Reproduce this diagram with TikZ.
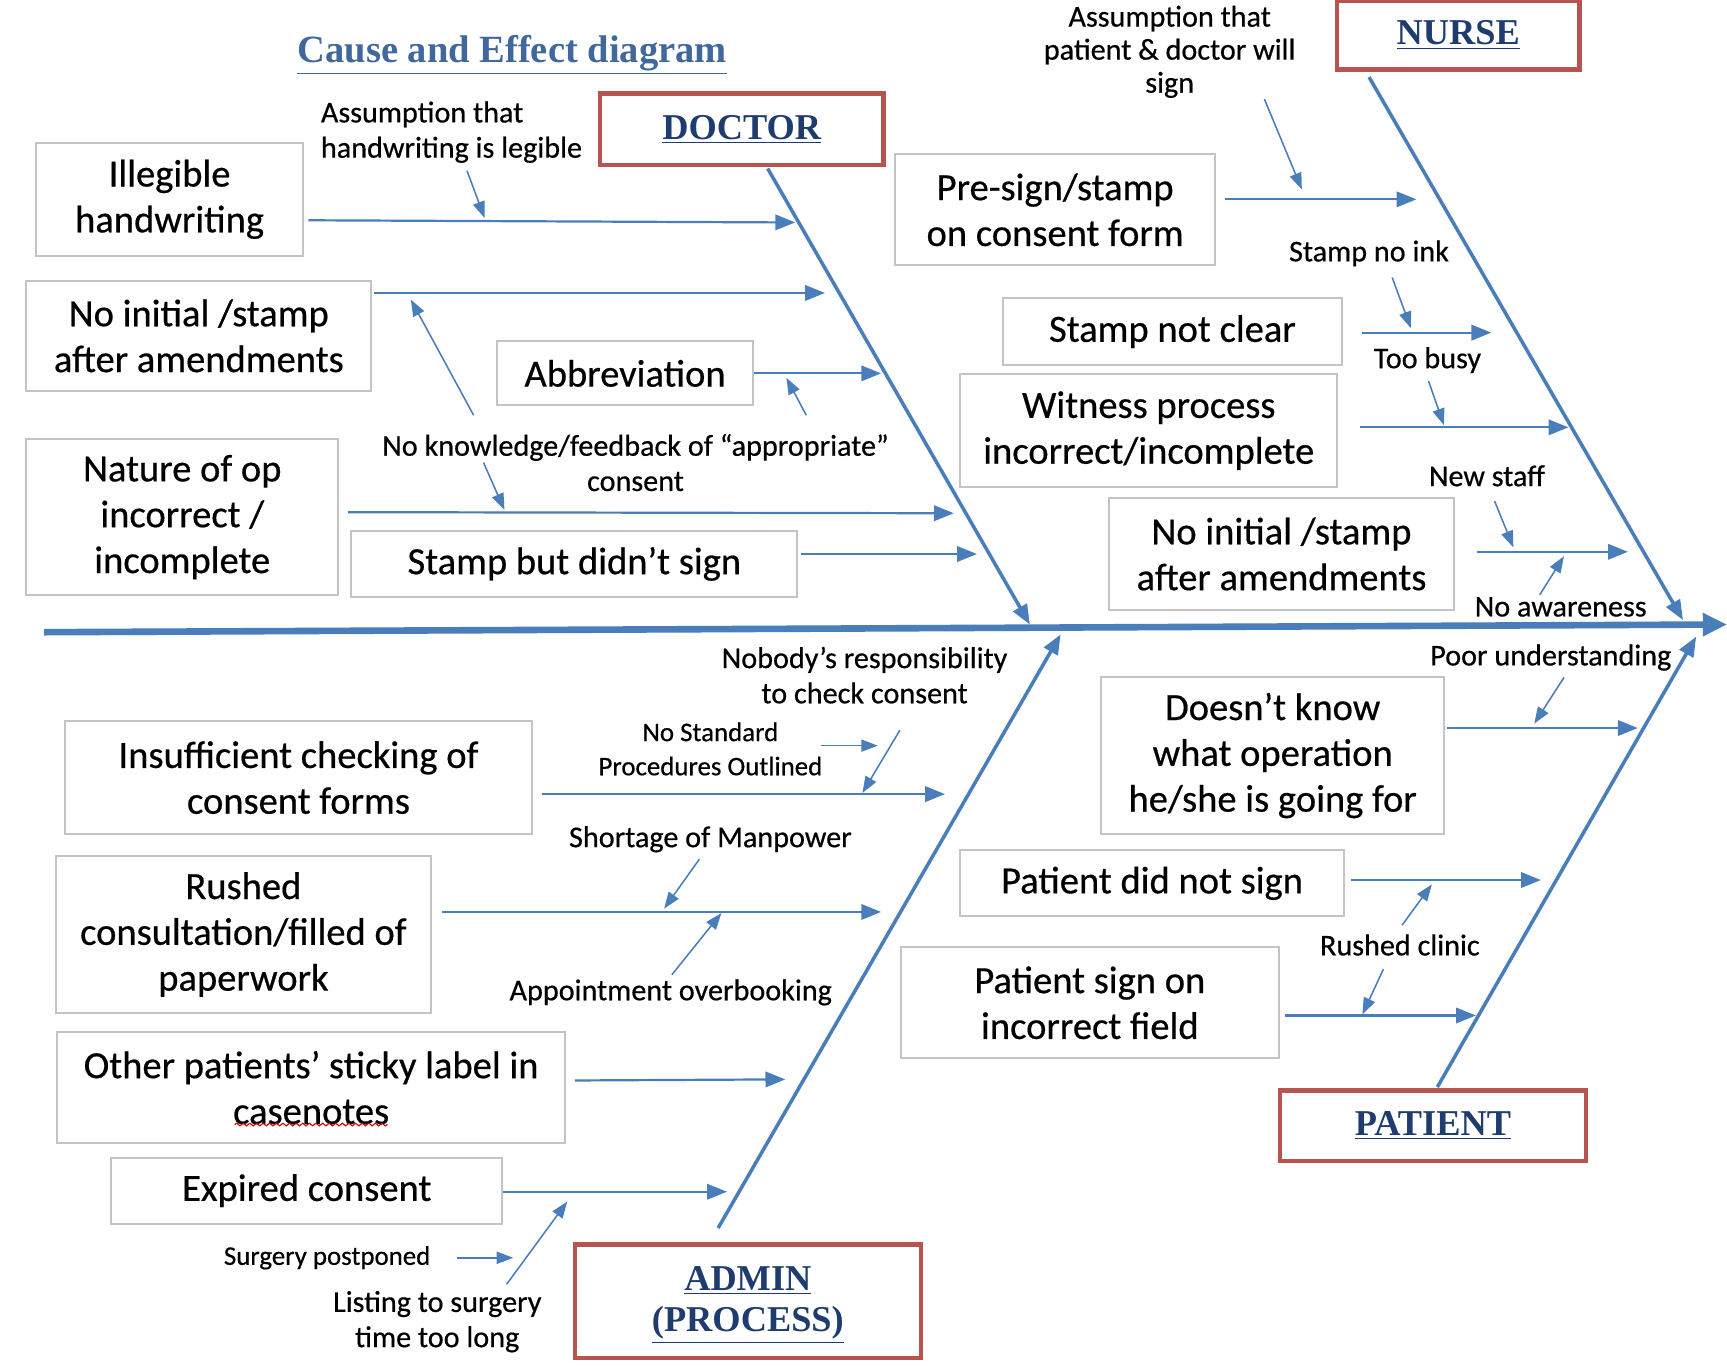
\documentclass[tikz,border=0pt]{standalone}
\usepackage{fontspec}
\setmainfont{Carlito}[FakeBold=0.5]
\newfontfamily\myserif{Liberation Serif}
\usetikzlibrary{arrows.meta,decorations.pathmorphing}
\definecolor{bone}{HTML}{4A7EBB}
\definecolor{boxgray}{HTML}{C4C4C4}
\definecolor{headred}{HTML}{B85450}
\definecolor{headblue}{HTML}{1F3C6E}
\definecolor{titleblue}{HTML}{41689C}
\newcommand{\mycausefont}{\fontsize{17.5pt}{20.8pt}\selectfont}
\newcommand{\mylblfont}{\fontsize{13.7pt}{16pt}\selectfont}
\newcommand{\mysmlfont}{\fontsize{12.2pt}{15.5pt}\selectfont}
\newcommand{\myheadfont}{\myserif\bfseries\fontsize{16.5pt}{19.5pt}\selectfont}
\tikzset{
  cause/.style={draw=boxgray, line width=0.9pt, align=center, font=\mycausefont, inner sep=0pt, text=black},
  head/.style={draw=headred, line width=2pt, align=center, font=\myheadfont, text=headblue, inner sep=0pt},
  headtext/.style={align=center, font=\myheadfont, text=headblue, inner sep=0pt},
  lbl/.style={font=\mylblfont, align=center, inner sep=0pt, text=black},
  sml/.style={font=\mysmlfont, align=center, inner sep=0pt, text=black},
  spineline/.style={draw=bone, line width=3pt, -{Triangle[length=11pt,width=10pt]}},
  boneline/.style={draw=bone, line width=1.6pt, -{Triangle[length=9pt,width=7pt]}},
  carrow/.style={draw=bone, line width=1pt, -{Triangle[length=9pt,width=7pt]}},
  sarrow/.style={draw=bone, line width=0.7pt, -{Triangle[length=7.5pt,width=5.5pt]}},
}
\begin{document}
\begin{tikzpicture}[x=0.5pt,y=-0.5pt]
\useasboundingbox (0,0) rectangle (1568,1240);
\fill[white] (0,0) rectangle (1568,1240);

% title
\node[font=\myserif\bfseries\fontsize{17.5pt}{20pt}\selectfont, text=titleblue, inner sep=0pt] (title) at (465,50) {\underline{Cause and Effect diagram}};

% heads
\node[head, minimum width=128.5pt, minimum height=32.5pt] (doctor) at (673.5,117.5) {\underline{DOCTOR}};
\node[head, minimum width=110pt, minimum height=31pt] (nurse) at (1324,32) {\underline{NURSE}};
\node[head, minimum width=157pt, minimum height=51.5pt] (admin) at (679,1181.5) {};
\node[headtext] (adminT) at (679,1185) {\underline{ADMIN}\\[-1pt]\underline{(PROCESS)}};
\node[head, minimum width=139pt, minimum height=32pt] (patient) at (1301,1022) {\underline{PATIENT}};

% spine and bones
\coordinate (sL) at (40,574);
\coordinate (sR) at (1568,567);
\draw[spineline] (sL) -- (sR);
\coordinate (dTop) at (697,153);
\coordinate (dEnd) at (935,567);
\coordinate (nTop) at (1243,70);
\coordinate (nEnd) at (1528,563);
\coordinate (aBot) at (652,1115);
\coordinate (aEnd) at (963,576);
\coordinate (pBot) at (1305,987);
\coordinate (pEnd) at (1540,578);
\draw[boneline] (dTop) -- (dEnd);
\draw[boneline] (nTop) -- (nEnd);
\draw[boneline] (aBot) -- (aEnd);
\draw[boneline] (pBot) -- (pEnd);

% ---------- DOCTOR causes
\node[cause, minimum width=121pt, minimum height=51pt] (ill) at (154,181) {Illegible\\handwriting};
\node[cause, minimum width=156.5pt, minimum height=50pt] (noiA) at (180.5,305) {No initial /stamp\\after amendments};
\node[cause, minimum width=116.5pt, minimum height=29pt] (abb) at (567.5,339) {Abbreviation};
\node[cause, minimum width=141.5pt, minimum height=70.5pt] (nat) at (165.5,469.5) {Nature of op\\incorrect /\\incomplete};
\node[cause, minimum width=202.5pt, minimum height=30pt] (stb) at (521.5,512) {Stamp but didn’t sign};

\coordinate (illE) at (722,202);
\coordinate (noiAE) at (749,266);
\coordinate (abbE) at (800,339);
\coordinate (natE) at (866,466);
\coordinate (stbE) at (887,503);
\draw[carrow] ([xshift=2pt]ill.east |- 0,200) -- (illE);
\draw[carrow] ([xshift=1pt]noiA.east |- noiAE) -- (noiAE);
\draw[carrow] (abb.east |- abbE) -- (abbE);
\draw[carrow] ([xshift=4pt]nat.east |- 0,465) -- (natE);
\draw[carrow] ([xshift=1pt]stb.east |- stbE) -- (stbE);

\node[lbl, align=left, anchor=west] (lAs1) at (291,120) {Assumption that\\handwriting is legible};
\node[lbl] (lNK) at (577,420) {No knowledge/feedback of “appropriate”\\consent};
\coordinate (a1s) at (424,155); \coordinate (a1e) at (440,198);
\coordinate (a2s) at (430,377); \coordinate (a2e) at (373,272);
\coordinate (a3s) at (732,377); \coordinate (a3e) at (714,343);
\coordinate (a4s) at (439,420); \coordinate (a4e) at (458,463);
\draw[sarrow] (a1s) -- (a1e);
\draw[sarrow] (a2s) -- (a2e);
\draw[sarrow] (a3s) -- (a3e);
\draw[sarrow] (a4s) -- (a4e);

% ---------- NURSE causes
\node[cause, minimum width=145pt, minimum height=50.5pt] (pre) at (958,190.5) {Pre-sign/stamp\\on consent form};
\node[cause, minimum width=153.5pt, minimum height=30pt] (snc) at (1064.5,301) {Stamp not clear};
\node[cause, minimum width=171pt, minimum height=51pt] (wit) at (1043,391) {Witness process\\incorrect/incomplete};
\node[cause, minimum width=156.5pt, minimum height=51pt] (noiB) at (1163.5,503) {No initial /stamp\\after amendments};

\coordinate (preE) at (1286,181);
\coordinate (sncE) at (1354,302);
\coordinate (witE) at (1424,388);
\coordinate (noiBE) at (1478,501);
\draw[carrow] ([xshift=4pt]pre.east |- preE) -- (preE);
\draw[carrow] ([xshift=9pt]snc.east |- sncE) -- (sncE);
\draw[carrow] ([xshift=10pt]wit.east |- witE) -- (witE);
\draw[carrow] ([xshift=10pt]noiB.east |- noiBE) -- (noiBE);

\node[lbl, font=\fontsize{13.7pt}{15pt}\selectfont] (lAs2) at (1062,47) {Assumption that\\patient \& doctor will\\sign};
\node[lbl] (lSNI) at (1243,230) {Stamp no ink};
\node[lbl] (lTB) at (1296,327) {Too busy};
\node[lbl] (lNS) at (1350,432) {New staff};
\node[lbl] (lNA) at (1417,551) {No awareness};
\coordinate (b1s) at (1148,90);  \coordinate (b1e) at (1182,172);
\coordinate (b2s) at (1264,252); \coordinate (b2e) at (1281,298);
\coordinate (b3s) at (1297,346); \coordinate (b3e) at (1311,386);
\coordinate (b4s) at (1357,455); \coordinate (b4e) at (1374,497);
\coordinate (b5s) at (1398,540); \coordinate (b5e) at (1420,505);
\draw[sarrow] (b1s) -- (b1e);
\draw[sarrow] (b2s) -- (b2e);
\draw[sarrow] (b3s) -- (b3e);
\draw[sarrow] (b4s) -- (b4e);
\draw[sarrow] (b5s) -- (b5e);

% ---------- ADMIN causes
\node[cause, minimum width=212pt, minimum height=51pt] (ins) at (271,706) {Insufficient checking of\\consent forms};
\node[cause, minimum width=170pt, minimum height=71.5pt] (rus) at (221,848.5) {Rushed\\consultation/filled of\\paperwork};
\node[cause, minimum width=230.5pt, minimum height=50.5pt] (oth) at (282.5,987.5) {Other patients’ sticky label in\\casenotes};
\node[cause, minimum width=177.5pt, minimum height=30pt] (exp) at (278.5,1081) {Expired consent};
\draw[red!80!black, line width=0.5pt, decorate, decoration={snake, amplitude=0.6pt, segment length=3pt}] (213,1021) -- (352,1021);

\coordinate (insE) at (858,721);
\coordinate (rusE) at (800,828);
\coordinate (othE) at (713,980);
\coordinate (expE) at (660,1082);
\draw[carrow] ([xshift=4pt]ins.east |- insE) -- (insE);
\draw[carrow] ([xshift=4.5pt]rus.east |- rusE) -- (rusE);
\draw[carrow] ([xshift=4pt]oth.east |- 0,981) -- (othE);
\draw[carrow] (exp.east |- expE) -- (expE);

\node[lbl] (lNR) at (785,613) {Nobody’s responsibility\\to check consent};
\node[sml] (lNSP) at (645,680) {No Standard\\Procedures Outlined};
\node[lbl] (lSM) at (645,762) {Shortage of Manpower};
\node[lbl] (lAO) at (609,901) {Appointment overbooking};
\node[sml] (lSP) at (297,1142) {Surgery postponed};
\node[lbl] (lLS) at (397,1200) {Listing to surgery\\time too long};
\coordinate (c1s) at (817,663);  \coordinate (c1e) at (783,720);
\coordinate (c2s) at (745,677);  \coordinate (c2e) at (797,677);
\coordinate (c3s) at (635,780);  \coordinate (c3e) at (603,825);
\coordinate (c4s) at (610,885);  \coordinate (c4e) at (655,829);
\coordinate (c5s) at (415,1142); \coordinate (c5e) at (466,1142);
\coordinate (c6s) at (460,1166); \coordinate (c6e) at (515,1091);
\draw[sarrow] (c1s) -- (c1e);
\draw[sarrow] (c2s) -- (c2e);
\draw[sarrow] (c3s) -- (c3e);
\draw[sarrow] (c4s) -- (c4e);
\draw[sarrow] (c5s) -- (c5e);
\draw[sarrow] (c6s) -- (c6e);

% ---------- PATIENT causes
\node[cause, minimum width=155.5pt, minimum height=71pt] (doe) at (1155.5,686) {Doesn’t know\\what operation\\he/she is going for};
\node[cause, minimum width=174pt, minimum height=30pt] (pdn) at (1046,802) {Patient did not sign};
\node[cause, minimum width=171.5pt, minimum height=50.5pt] (psi) at (989.5,910.5) {Patient sign on\\incorrect field};

\coordinate (doeE) at (1487,661);
\coordinate (pdnE) at (1399,799);
\coordinate (psiE) at (1340,922);
\draw[carrow] ([xshift=1pt]doe.east |- doeE) -- (doeE);
\draw[carrow] ([xshift=3pt]pdn.east |- pdnE) -- (pdnE);
\draw[carrow] ([xshift=2.5pt]psi.east |- psiE) -- (psiE);

\node[lbl] (lPU) at (1408,597) {Poor understanding};
\node[lbl] (lRC) at (1271,858) {Rushed clinic};
\coordinate (d1s) at (1420,615); \coordinate (d1e) at (1393,657);
\coordinate (d2s) at (1273,840); \coordinate (d2e) at (1300,803);
\coordinate (d3s) at (1256,880); \coordinate (d3e) at (1237,921);
\draw[sarrow] (d1s) -- (d1e);
\draw[sarrow] (d2s) -- (d2e);
\draw[sarrow] (d3s) -- (d3e);
\end{tikzpicture}
\end{document}
